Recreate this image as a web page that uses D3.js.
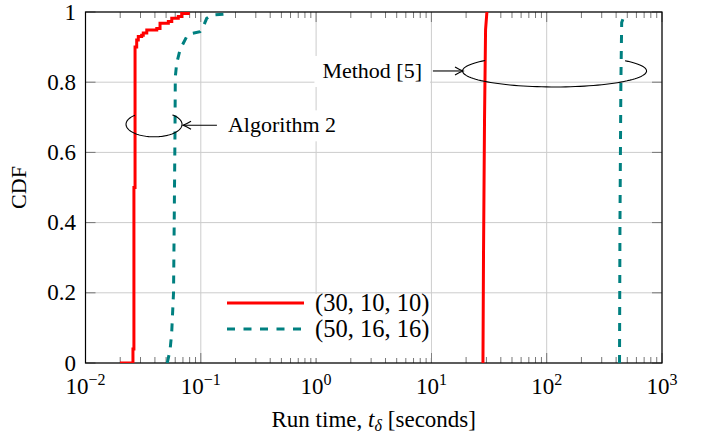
<!DOCTYPE html>
<html>
<head>
<meta charset="utf-8">
<script src="https://cdn.jsdelivr.net/npm/d3@7"></script>
<style>
  html, body { margin: 0; padding: 0; background: #fff; }
  svg { display: block; }
  svg text { font-family: "Liberation Serif", "Times New Roman", "DejaVu Serif", serif; }
</style>
</head>
<body>
<div id="chart"></div>
<script>
// Algorithm 2, (30,10,10)
const algSmallT   = [0.0199, 0.0249, 0.0258, 0.0263, 0.0269, 0.0278, 0.0287, 0.0307, 0.0317, 0.0340, 0.0415, 0.0443, 0.0523, 0.0560, 0.0638, 0.0683, 0.0779];
const algSmallCdf = [0, 0, 0.04, 0.5, 0.9, 0.92, 0.93, 0.934, 0.94, 0.949, 0.953, 0.968, 0.973, 0.982, 0.987, 0.996, 1.0];
// Algorithm 2, (50,16,16)
const algLargeT   = [0.0512, 0.0541, 0.0559, 0.0580, 0.0588, 0.0597, 0.0601, 0.0618, 0.0660, 0.0705, 0.0755, 0.0834, 0.0984, 0.105, 0.1125, 0.124, 0.162, 0.179];
const algLargeCdf = [0, 0.037, 0.085, 0.2, 0.4, 0.65, 0.815, 0.854, 0.892, 0.911, 0.93, 0.939, 0.944, 0.958, 0.982, 0.991, 0.994, 1.0];
// Method [5], (30,10,10)
const refSmallT   = [28.0, 28.3, 28.9, 29.5, 30.3];
const refSmallCdf = [0, 0.3, 0.7, 0.95, 1.0];
// Method [5], (50,16,16)
const refLargeT   = [428, 432, 440, 447, 470, 487];
const refLargeCdf = [0, 0.4, 0.8, 0.97, 0.99, 1.0];

const xTickValues = [1e-2, 1e-1, 1e0, 1e1, 1e2, 1e3];
const xTickExps   = ["\u22122", "\u22121", "0", "1", "2", "3"];
const yTickValues = [0, 0.2, 0.4, 0.6, 0.8, 1];
const yTickLabels = ["0", "0.2", "0.4", "0.6", "0.8", "1"];
const legendLabels = ["(30, 10, 10)", "(50, 16, 16)"];

(function () {
  const W = 709, H = 433;
  const L = 85.5, R = 662, T = 12, B = 363;
  const RED = "#ff0000", TEAL = "#008080";
  const GRID = "#cccccc", TICK = "#777";
  const SERIF = "Liberation Serif, Times New Roman, DejaVu Serif, serif";

  const x = d3.scaleLog().domain([1e-2, 1e3]).range([L, R]);
  const y = d3.scaleLinear().domain([0, 1]).range([B, T]);

  const svg = d3.select("#chart").append("svg")
    .attr("width", W).attr("height", H)
    .attr("viewBox", `0 0 ${W} ${H}`)
    .attr("font-family", SERIF);

  svg.append("defs").append("clipPath").attr("id", "plot-clip")
    .append("rect").attr("x", L).attr("y", T).attr("width", R - L).attr("height", B - T);

  // Grid at major ticks.
  const grid = svg.append("g").attr("stroke", GRID).attr("stroke-width", 1);
  xTickValues.forEach((v) => {
    grid.append("line").attr("x1", x(v)).attr("x2", x(v)).attr("y1", T).attr("y2", B);
  });
  yTickValues.forEach((v) => {
    grid.append("line").attr("x1", L).attr("x2", R).attr("y1", y(v)).attr("y2", y(v));
  });

  // Ticks (inward, bottom + top, left + right).
  const ticks = svg.append("g").attr("stroke", TICK).attr("stroke-width", 1);
  const minor = [];
  for (let e = -2; e < 3; e++) for (let m = 2; m <= 9; m++) minor.push(m * Math.pow(10, e));
  minor.forEach((v) => {
    ticks.append("line").attr("x1", x(v)).attr("x2", x(v)).attr("y1", B).attr("y2", B - 6);
    ticks.append("line").attr("x1", x(v)).attr("x2", x(v)).attr("y1", T).attr("y2", T + 6);
  });
  xTickValues.forEach((v) => {
    ticks.append("line").attr("x1", x(v)).attr("x2", x(v)).attr("y1", B).attr("y2", B - 10);
    ticks.append("line").attr("x1", x(v)).attr("x2", x(v)).attr("y1", T).attr("y2", T + 10);
  });
  yTickValues.forEach((v) => {
    ticks.append("line").attr("x1", L).attr("x2", L + 10).attr("y1", y(v)).attr("y2", y(v));
    ticks.append("line").attr("x1", R).attr("x2", R - 10).attr("y1", y(v)).attr("y2", y(v));
  });

  // Frame.
  svg.append("rect").attr("x", L).attr("y", T).attr("width", R - L).attr("height", B - T)
    .attr("fill", "none").attr("stroke", "#000").attr("stroke-width", 1.2);

  // Tick labels.
  const xl = svg.append("g").attr("font-size", 23).attr("fill", "#000");
  xTickValues.forEach((v, i) => {
    const t = xl.append("text").attr("x", x(v)).attr("y", 394).attr("text-anchor", "middle");
    t.append("tspan").text("10");
    t.append("tspan").attr("dy", -9).attr("font-size", 16).text(xTickExps[i]);
  });
  const yl = svg.append("g").attr("font-size", 23).attr("fill", "#000");
  yTickValues.forEach((v, i) => {
    yl.append("text").attr("x", 76).attr("y", y(v)).attr("dy", "0.33em")
      .attr("text-anchor", "end").text(yTickLabels[i]);
  });

  // Axis titles.
  const xt = svg.append("text").attr("x", (L + R) / 2).attr("y", 427)
    .attr("text-anchor", "middle").attr("font-size", 23);
  xt.append("tspan").text("Run time, ");
  xt.append("tspan").attr("font-style", "italic").text("t");
  xt.append("tspan").attr("font-style", "italic").attr("font-size", 16).attr("dy", 4).text("\u03b4");
  xt.append("tspan").attr("dy", -4).attr("dx", 6).text("[seconds]");
  svg.append("text").attr("transform", `translate(26,${(T + B) / 2}) rotate(-90)`)
    .attr("text-anchor", "middle").attr("font-size", 22).text("CDF");

  // Curves.
  const plot = svg.append("g").attr("clip-path", "url(#plot-clip)");
  const series = [
    { t: algSmallT, c: algSmallCdf, color: RED, dash: null, curve: d3.curveStepAfter },
    { t: algLargeT, c: algLargeCdf, color: TEAL, dash: "8,8", curve: d3.curveLinear },
    { t: refSmallT, c: refSmallCdf, color: RED, dash: null, curve: d3.curveLinear },
    { t: refLargeT, c: refLargeCdf, color: TEAL, dash: "8,8", curve: d3.curveLinear },
  ];
  series.forEach((s) => {
    const line = d3.line().curve(s.curve).x((d) => x(d[0])).y((d) => y(d[1]));
    plot.append("path")
      .attr("d", line(s.t.map((v, i) => [v, s.c[i]])))
      .attr("fill", "none").attr("stroke", s.color).attr("stroke-width", 3)
      .attr("stroke-dasharray", s.dash);
  });

  // Annotations: partial ellipse + arrow + boxed label.
  function arcEllipse(cx, cy, rx, ry, gapFrom, gapTo) {
    // draw from gapTo going round to gapFrom+360 (angles in degrees, y up)
    const pts = [];
    for (let a = gapTo; a <= gapFrom + 360; a += 3) {
      const r = (a * Math.PI) / 180;
      pts.push([cx + rx * Math.cos(r), cy - ry * Math.sin(r)]);
    }
    return d3.line()(pts);
  }
  function arrow(g, x1, y1, x2, y2) {
    g.append("line").attr("x1", x1).attr("y1", y1).attr("x2", x2).attr("y2", y2)
      .attr("stroke", "#000").attr("stroke-width", 1.1);
    const dir = Math.sign(x2 - x1);
    g.append("path")
      .attr("d", `M${x2 - dir * 8},${y2 - 4} Q${x2 - dir * 3},${y2 - 1} ${x2},${y2} Q${x2 - dir * 3},${y2 + 1} ${x2 - dir * 8},${y2 + 4}`)
      .attr("fill", "none").attr("stroke", "#000").attr("stroke-width", 1.1);
  }
  function boxedLabel(g, tx, ty, anchor, text) {
    const bg = g.append("rect").attr("fill", "#fff");
    const t = g.append("text").attr("x", tx).attr("y", ty).attr("text-anchor", anchor)
      .attr("font-size", 22).text(text);
    const bb = t.node().getBBox();
    bg.attr("x", bb.x - 8).attr("y", bb.y - 2).attr("width", bb.width + 16).attr("height", bb.height + 6);
  }

  const ann = svg.append("g");
  // Algorithm 2
  ann.append("path").attr("d", arcEllipse(x(0.0393), y(0.68), 28, 12.5, 50, 133))
    .attr("fill", "none").attr("stroke", "#000").attr("stroke-width", 1.1);
  boxedLabel(ann, x(0.172), y(0.68) + 8, "start", "Algorithm 2");
  arrow(ann, x(0.138), y(0.68) + 1, x(0.0701), y(0.68) + 1);
  // Method [5]
  ann.append("path").attr("d", arcEllipse(x(117), y(0.832), 92, 16, 40, 139))
    .attr("fill", "none").attr("stroke", "#000").attr("stroke-width", 1.1);
  boxedLabel(ann, x(8.29), y(0.832) + 7, "end", "Method [5]");
  arrow(ann, x(10.3), y(0.832), x(18.8), y(0.832));

  // Legend.
  const lg = svg.append("g");
  lg.append("rect").attr("x", 220).attr("y", 294).attr("width", 211).attr("height", 64).attr("fill", "#fff");
  [RED, TEAL].forEach((c, i) => {
    const ly = 303 + i * 26;
    lg.append("line").attr("x1", 227).attr("x2", 304).attr("y1", ly).attr("y2", ly)
      .attr("stroke", c).attr("stroke-width", 3)
      .attr("stroke-dasharray", i === 1 ? "8,8.5" : null);
    lg.append("text").attr("x", 315).attr("y", ly).attr("dy", "0.33em")
      .attr("font-size", 24.5).text(legendLabels[i]);
  });
})();
</script>
</body>
</html>
